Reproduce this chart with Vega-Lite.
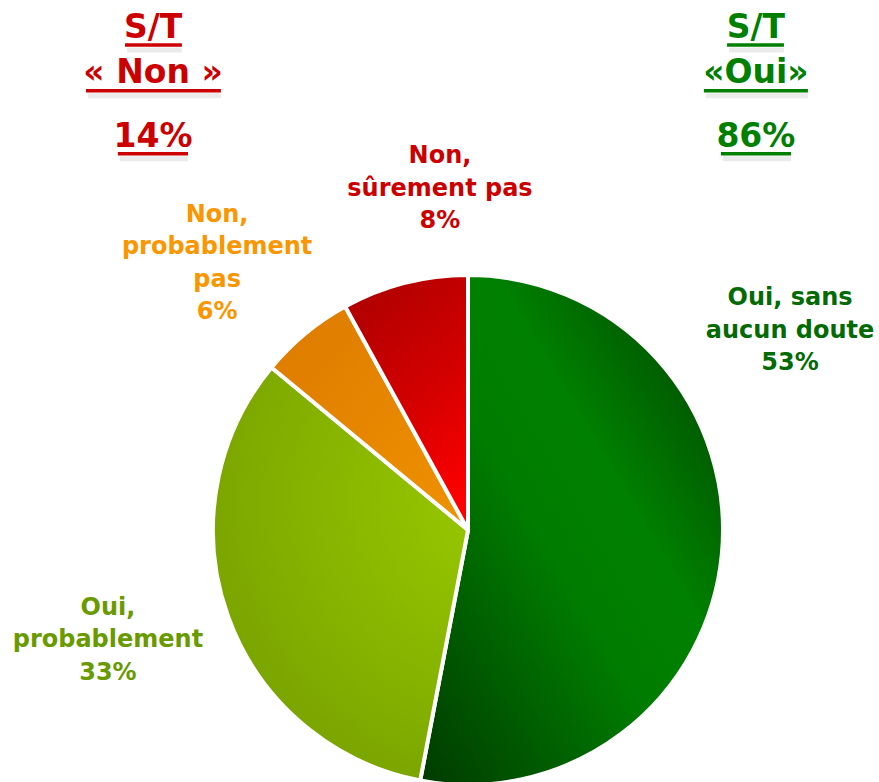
{
  "$schema": "https://vega.github.io/schema/vega-lite/v6.json",
  "width": 510,
  "height": 504,
  "autosize": {"type": "none"},
  "padding": {"left": 213, "top": 278, "right": 156, "bottom": 0},
  "background": "white",
  "config": {"view": {"stroke": null}},
  "datasets": {
    "pie": [
      {"cat": "Oui, sans aucun doute", "rank": 1, "value": 53},
      {"cat": "Oui, probablement", "rank": 2, "value": 33},
      {"cat": "Non, probablement pas", "rank": 3, "value": 6},
      {"cat": "Non, sûrement pas", "rank": 4, "value": 8}
    ],
    "labels": [
      {"lab": "Oui, sans\naucun doute\n53%", "cat": "oui_sure", "x": 1.263, "y": 0.882},
      {"lab": "Oui,\nprobablement\n33%", "cat": "oui_prob", "x": -1.412, "y": -0.333},
      {"lab": "Non,\nprobablement\npas\n6%", "cat": "non_prob", "x": -0.984, "y": 1.208},
      {"lab": "Non,\nsûrement pas\n8%", "cat": "non_sure", "x": -0.110, "y": 1.439}
    ],
    "headers": [
      {"t": "S/T", "side": "non", "x": -1.235, "y": 1.929},
      {"t": "« Non »", "side": "non", "x": -1.235, "y": 1.753},
      {"t": "14%", "side": "non", "x": -1.235, "y": 1.502},
      {"t": "S/T", "side": "oui", "x": 1.129, "y": 1.929},
      {"t": "«Oui»", "side": "oui", "x": 1.129, "y": 1.753},
      {"t": "86%", "side": "oui", "x": 1.129, "y": 1.502}
    ],
    "underlines": [
      {"side": "non", "x": -1.345, "x2": -1.122, "y": 1.902},
      {"side": "non", "x": -1.498, "x2": -0.969, "y": 1.722},
      {"side": "non", "x": -1.373, "x2": -1.098, "y": 1.475},
      {"side": "oui", "x": 1.016, "x2": 1.239, "y": 1.902},
      {"side": "oui", "x": 0.925, "x2": 1.333, "y": 1.722},
      {"side": "oui", "x": 0.992, "x2": 1.267, "y": 1.475}
    ]
  },
  "resolve": {"scale": {"color": "independent"}},
  "layer": [
    {
      "data": {"name": "pie"},
      "mark": {"type": "arc", "radius": 255, "stroke": "white", "strokeWidth": 4},
      "encoding": {
        "theta": {"field": "value", "type": "quantitative", "stack": true},
        "order": {"field": "rank", "type": "quantitative"},
        "fill": {
          "condition": [
            {"test": "datum.rank === 1", "value": {"gradient": "linear", "x1": 0, "y1": 1, "x2": 1, "y2": 0, "stops": [
              {"offset": 0, "color": "#003a00"},
              {"offset": 0.45, "color": "#007d00"},
              {"offset": 0.62, "color": "#008000"},
              {"offset": 0.85, "color": "#005800"},
              {"offset": 1, "color": "#004800"}]}},
            {"test": "datum.rank === 2", "value": {"gradient": "radial", "x1": 0.9, "y1": 0.32, "r1": 0, "x2": 0.9, "y2": 0.32, "r2": 1, "stops": [
              {"offset": 0, "color": "#99ca00"},
              {"offset": 0.5, "color": "#85b200"},
              {"offset": 1, "color": "#6f9500"}]}},
            {"test": "datum.rank === 3", "value": {"gradient": "linear", "x1": 0, "y1": 0, "x2": 1, "y2": 1, "stops": [
              {"offset": 0, "color": "#dc7a00"},
              {"offset": 1, "color": "#f09200"}]}}
          ],
          "value": {"gradient": "linear", "x1": 0.3, "y1": 0, "x2": 0.7, "y2": 1, "stops": [
            {"offset": 0, "color": "#b00000"},
            {"offset": 0.5, "color": "#d20000"},
            {"offset": 1, "color": "#ff0000"}]}
        }
      }
    },
    {
      "data": {"name": "labels"},
      "mark": {"type": "text", "align": "center", "baseline": "alphabetic", "lineBreak": "\n", "lineHeight": 32.5, "font": "DejaVu Sans", "fontWeight": "bold", "fontSize": 24},
      "encoding": {
        "x": {"field": "x", "type": "quantitative", "axis": null, "scale": {"domain": [-1, 1], "nice": false, "zero": false}},
        "y": {"field": "y", "type": "quantitative", "axis": null, "scale": {"domain": [-0.9882, 0.9882], "nice": false, "zero": false}},
        "text": {"field": "lab"},
        "color": {"field": "cat", "type": "nominal", "legend": null, "scale": {"domain": ["oui_sure", "oui_prob", "non_prob", "non_sure"], "range": ["#036b03", "#699a00", "#fa9600", "#cc0000"]}}
      }
    },
    {
      "data": {"name": "underlines"},
      "mark": {"type": "rule", "strokeWidth": 5, "color": "#000000", "opacity": 0.08, "xOffset": 2, "yOffset": 5},
      "encoding": {
        "x": {"field": "x", "type": "quantitative", "axis": null, "scale": {"domain": [-1, 1], "nice": false, "zero": false}},
        "x2": {"field": "x2"},
        "y": {"field": "y", "type": "quantitative", "axis": null, "scale": {"domain": [-0.9882, 0.9882], "nice": false, "zero": false}}
      }
    },
    {
      "data": {"name": "underlines"},
      "mark": {"type": "rule", "strokeWidth": 3.5},
      "encoding": {
        "x": {"field": "x", "type": "quantitative", "axis": null, "scale": {"domain": [-1, 1], "nice": false, "zero": false}},
        "x2": {"field": "x2"},
        "y": {"field": "y", "type": "quantitative", "axis": null, "scale": {"domain": [-0.9882, 0.9882], "nice": false, "zero": false}},
        "color": {"field": "side", "type": "nominal", "legend": null, "scale": {"domain": ["non", "oui"], "range": ["#cc0000", "#007f00"]}}
      }
    },
    {
      "data": {"name": "headers"},
      "mark": {"type": "text", "align": "center", "baseline": "alphabetic", "font": "DejaVu Sans", "fontWeight": "bold", "fontSize": 33},
      "encoding": {
        "x": {"field": "x", "type": "quantitative", "axis": null, "scale": {"domain": [-1, 1], "nice": false, "zero": false}},
        "y": {"field": "y", "type": "quantitative", "axis": null, "scale": {"domain": [-0.9882, 0.9882], "nice": false, "zero": false}},
        "text": {"field": "t"},
        "color": {"field": "side", "type": "nominal", "legend": null, "scale": {"domain": ["non", "oui"], "range": ["#cc0000", "#007f00"]}}
      }
    }
  ]
}
